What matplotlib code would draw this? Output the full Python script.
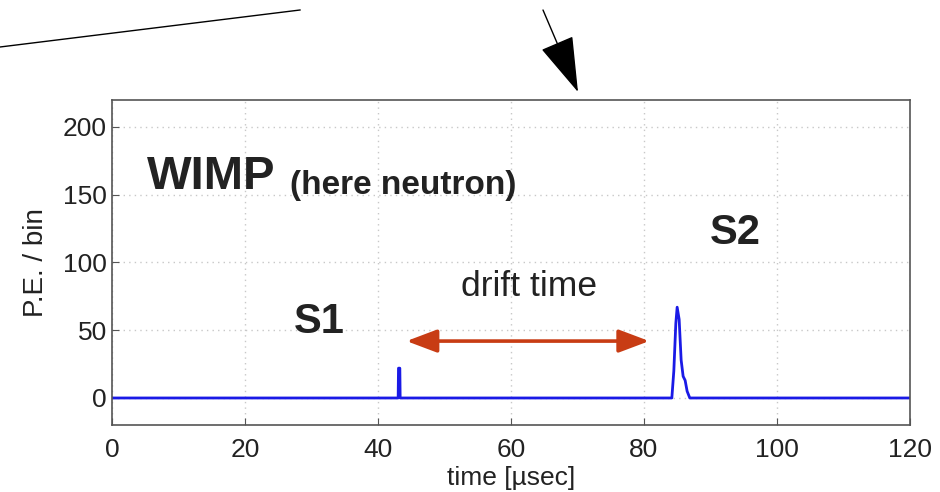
import matplotlib
matplotlib.use('Agg')
import matplotlib.pyplot as plt
from matplotlib.lines import Line2D
from matplotlib.patches import FancyArrowPatch

plt.rcParams['font.family'] = ['Liberation Sans', 'DejaVu Sans']

# waveform (time in usec, P.E. per bin)
t = [0, 43.05, 43.1, 43.3, 43.35, 84.2, 84.5, 84.8, 85.0, 85.3, 85.6, 85.9, 86.2, 86.5, 86.9, 120]
pe = [0, 0, 22, 22, 0, 0, 20, 55, 67, 58, 28, 16, 13, 5, 0, 0]

xticks = [0, 20, 40, 60, 80, 100, 120]
yticks = [0, 50, 100, 150, 200]
drift = (44.3, 80.8, 42)

fig = plt.figure(figsize=(9.4, 4.92), dpi=100)
ax = fig.add_axes([0.119, 0.136, 0.849, 0.661])

ax.plot(t, pe, color='#1a1ae6', lw=2)
ax.set_xlim(0, 120)
ax.set_ylim(-20, 220)
ax.set_xticks(xticks)
ax.set_yticks(yticks)
ax.tick_params(direction='in', labelsize=19, length=5, color='#555555', labelcolor='#222222')
ax.tick_params(axis='x', pad=9)
ax.grid(True, linestyle=(0, (1, 3)), color='#c8c8c8', lw=1)
for s in ax.spines.values():
    s.set_color('#555555')
    s.set_linewidth(1.2)
ax.set_xlabel('time [µsec]', fontsize=19, labelpad=3, color='#222222')
ax.set_ylabel('P.E. / bin', fontsize=20, labelpad=10, color='#222222')

ax.annotate('', xy=(drift[0], drift[2]), xytext=(drift[1], drift[2]),
            arrowprops=dict(arrowstyle='<|-|>,head_length=0.85,head_width=0.32',
                            color='#c83c14', lw=2.6, mutation_scale=22,
                            shrinkA=0, shrinkB=0))
ax.text(62.8, 82, 'drift time', fontsize=25.5, ha='center', va='center', color='#222222')
ax.text(5.3, 163, 'WIMP', fontsize=34, fontweight='bold', va='center', color='#222222')
ax.text(26.8, 157, '(here neutron)', fontsize=24, fontweight='bold', va='center', color='#222222')
ax.text(31.2, 56, 'S1', fontsize=30, fontweight='bold', ha='center', va='center', color='#222222')
ax.text(93.8, 122, 'S2', fontsize=30, fontweight='bold', ha='center', va='center', color='#222222')

# slide decorations above the plot
H = 492
fig.add_artist(Line2D([0, 300 / 940], [1 - 47 / H, 1 - 10 / H], color='black', lw=1))
fig.add_artist(FancyArrowPatch((543 / 940, 1 - 10 / H), (578 / 940, 1 - 92 / H),
                               transform=fig.transFigure,
                               arrowstyle='-|>,head_length=0.9,head_width=0.28',
                               mutation_scale=40, color='black', lw=1,
                               shrinkA=0, shrinkB=0))

fig.savefig('out.png', dpi=100)
